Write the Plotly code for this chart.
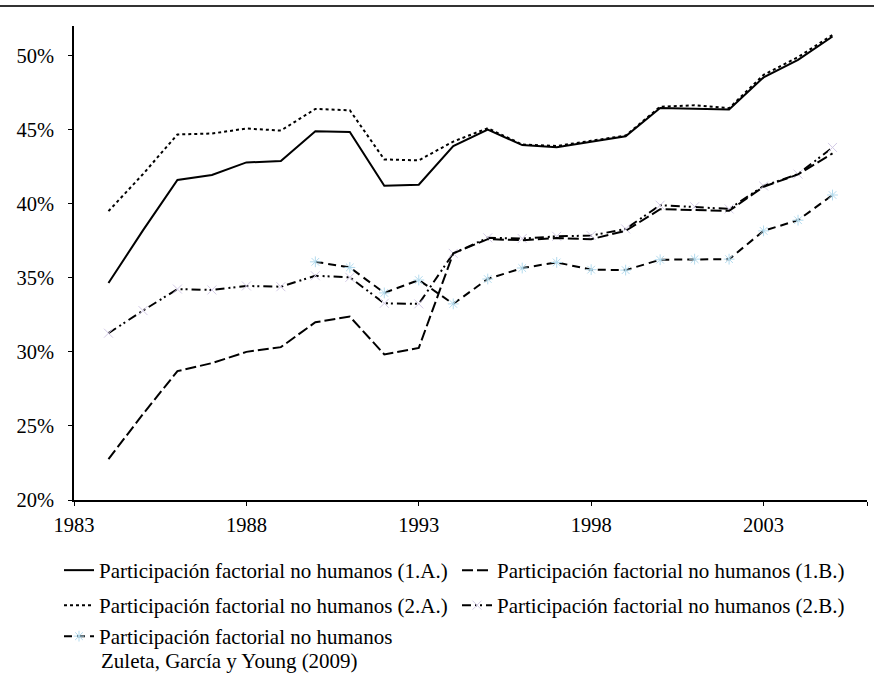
import plotly.graph_objects as go

# Participación factorial no humanos, en %
years = list(range(1984, 2006))
part_1a = [34.65, 38.2, 41.6, 41.94, 42.79, 42.88, 44.9, 44.85, 41.22, 41.29, 43.89,
           45.01, 43.96, 43.82, 44.18, 44.56, 46.47, 46.42, 46.36, 48.53, 49.72, 51.29]
part_2a = [39.5, 42.0, 44.68, 44.74, 45.08, 44.94, 46.4, 46.31, 42.99, 42.93, 44.2,
           45.1, 44.0, 43.9, 44.25, 44.6, 46.55, 46.65, 46.45, 48.7, 49.9, 51.4]
part_1b = [22.76, 25.8, 28.7, 29.24, 30.0, 30.32, 32.0, 32.38, 29.83, 30.27, 36.65,
           37.61, 37.54, 37.68, 37.61, 38.17, 39.63, 39.6, 39.52, 41.15, 41.98, 43.4]
part_2b = [31.26, 32.79, 34.24, 34.18, 34.45, 34.4, 35.14, 35.03, 33.28, 33.24, 36.65,
           37.7, 37.65, 37.8, 37.85, 38.3, 39.9, 39.8, 39.65, 41.2, 42.0, 43.8]
zuleta_years = list(range(1990, 2006))
zuleta = [36.08, 35.7, 33.98, 34.85, 33.24, 34.92, 35.66, 36.04, 35.55, 35.52,
          36.22, 36.26, 36.26, 38.17, 38.89, 40.59]

x_ticks = [1983, 1988, 1993, 1998, 2003, 2006]
x_ticktext = ['1983', '1988', '1993', '1998', '2003', '']
y_ticks = [20, 25, 30, 35, 40, 45, 50]
y_ticktext = [f'{v}%' for v in y_ticks]

W, H = 874, 678
ML, MR, MT, MB = 74, 7, 26, 178
PW, PH = W - ML - MR, H - MT - MB


def px(xp):
    return (xp - ML) / PW


def py(yp):
    return (H - MB - yp) / PH


FONT = 'Liberation Serif, Times New Roman, serif'
txt = 'Participación factorial no humanos'

fig = go.Figure()

fig.add_trace(go.Scatter(
    x=zuleta_years, y=zuleta, mode='lines+markers', legend='legend5',
    name=txt,
    line=dict(color='black', width=2, dash='8px,5px'),
    marker=dict(symbol='asterisk-open', size=9, color='#b3dbee', line=dict(width=1, color='#b3dbee'))
))
fig.add_trace(go.Scatter(
    x=years, y=part_2b, mode='lines+markers', legend='legend4',
    name=txt + ' (2.B.)',
    line=dict(color='black', width=2, dash='9px,4px,2px,3px,2px,4px'),
    marker=dict(symbol='x-thin-open', size=9, color='#d3cae6', line=dict(width=1, color='#d3cae6'))
))
fig.add_trace(go.Scatter(
    x=years, y=part_1b, mode='lines', legend='legend2',
    name=txt + ' (1.B.)',
    line=dict(color='black', width=2, dash='11px,4px')
))
fig.add_trace(go.Scatter(
    x=years, y=part_2a, mode='lines', legend='legend3',
    name=txt + ' (2.A.)',
    line=dict(color='black', width=2, dash='dot')
))
fig.add_trace(go.Scatter(
    x=years, y=part_1a, mode='lines', legend='legend',
    name=txt + ' (1.A.)',
    line=dict(color='black', width=2)
))

# línea horizontal superior
fig.add_shape(type='line', xref='paper', yref='paper',
              x0=px(0), x1=px(W), y0=py(6), y1=py(6),
              line=dict(color='#333333', width=2))

# segunda línea de la última entrada de leyenda
fig.add_annotation(xref='paper', yref='paper', x=px(99), y=py(661),
                   xanchor='left', yanchor='middle', showarrow=False,
                   text='Zuleta, García y Young (2009)',
                   font=dict(family=FONT, size=21, color='black'))

leg = dict(orientation='v', xanchor='left', yanchor='top', bgcolor='rgba(0,0,0,0)',
           font=dict(family=FONT, size=21, color='black'), itemwidth=30)
col1, col2 = px(59), px(457)

fig.update_layout(
    width=W, height=H,
    margin=dict(l=ML, r=MR, t=MT, b=MB, autoexpand=False),
    paper_bgcolor='white', plot_bgcolor='white',
    font=dict(family=FONT, size=20, color='black'),
    showlegend=True,
    legend=dict(leg, x=col1, y=py(550)),
    legend2=dict(leg, x=col2, y=py(550)),
    legend3=dict(leg, x=col1, y=py(585)),
    legend4=dict(leg, x=col2, y=py(585)),
    legend5=dict(leg, x=col1, y=py(616)),
    xaxis=dict(range=[1983, 2006], tickvals=x_ticks, ticktext=x_ticktext,
               showgrid=False, zeroline=False, showline=True, linecolor='black', linewidth=1.5,
               ticks='outside', ticklen=4, tickcolor='black', ticklabelstandoff=2,
               tickfont=dict(family=FONT, size=20.5, color='black')),
    yaxis=dict(range=[20, 52], tickvals=y_ticks, ticktext=y_ticktext,
               showgrid=False, zeroline=False, showline=True, linecolor='black', linewidth=1.5,
               ticks='outside', ticklen=4, tickcolor='black', ticklabelstandoff=10,
               tickfont=dict(family=FONT, size=20.5, color='black')),
)

fig.write_html("out.html", config={'displayModeBar': False},
               post_script="document.body.style.margin='0';")
